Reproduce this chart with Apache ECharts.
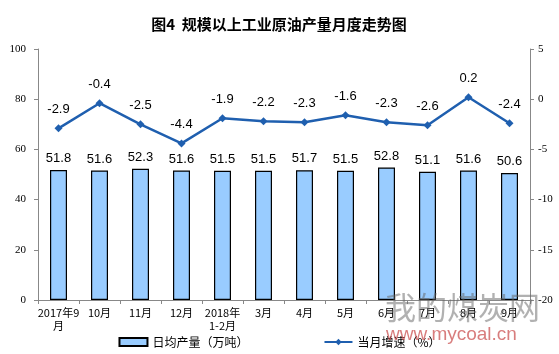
<!DOCTYPE html>
<html><head><meta charset="utf-8">
<script src="https://cdn.jsdelivr.net/npm/echarts@6/dist/echarts.min.js"></script>
<style>html,body{margin:0;padding:0;background:#fff}#c{width:559px;height:354px}</style>
</head><body><div id="c"></div>
<script>
const categories = ['2017年9\n月','10月','11月','12月','2018年\n1-2月','3月','4月','5月','6月','7月','8月','9月'];
const dailyOutput = [51.8,51.6,52.3,51.6,51.5,51.5,51.7,51.5,52.8,51.1,51.6,50.6];
const growth = [-2.9,-0.4,-2.5,-4.4,-1.9,-2.2,-2.3,-1.6,-2.3,-2.6,0.2,-2.4];
const leftTicks = [0,20,40,60,80,100];
const rightTicks = [-20,-15,-10,-5,0,5];

const chart = echarts.init(document.getElementById('c'));
const sans = '"Noto Sans CJK SC", Arial, sans-serif';
chart.setOption({
  animation:false,
  title:{text:'图4  规模以上工业原油产量月度走势图', left:274, textAlign:'center', top:12,
    textStyle:{fontSize:15, fontWeight:'bold', color:'#000', fontFamily:sans}},
  grid:{left:38, right:29, top:49, bottom:54},
  legend:{bottom:1, left:'center', itemGap:75, itemWidth:28, itemHeight:8,
    textStyle:{fontSize:12, color:'#000', fontFamily:sans},
    data:[{name:'日均产量（万吨）', icon:'rect'},{name:'当月增速（%）'}]},
  xAxis:{type:'category', data:categories,
    axisLine:{lineStyle:{color:'#888'}},
    axisTick:{show:true, alignWithLabel:false, length:4, lineStyle:{color:'#888'}},
    axisLabel:{interval:0, fontSize:11, color:'#000', lineHeight:13, margin:6, fontFamily:sans}},
  yAxis:[
    {type:'value', min:leftTicks[0], max:leftTicks[leftTicks.length-1], interval:20,
     splitLine:{show:false}, axisLine:{show:true, lineStyle:{color:'#888'}},
     axisTick:{show:true, length:4, lineStyle:{color:'#888'}},
     axisLabel:{fontSize:11, color:'#000', fontFamily:'"Liberation Serif", serif', margin:12}},
    {type:'value', min:rightTicks[0], max:rightTicks[rightTicks.length-1], interval:5,
     splitLine:{show:false}, axisLine:{show:true, lineStyle:{color:'#888'}},
     axisTick:{show:true, length:4, lineStyle:{color:'#888'}},
     axisLabel:{fontSize:11, color:'#000', fontFamily:'"Liberation Serif", serif', margin:8}}
  ],
  series:[
    {name:'日均产量（万吨）', type:'bar', data:dailyOutput, barWidth:17, yAxisIndex:0,
     itemStyle:{color:'#99CCFF', borderColor:'#000', borderWidth:1.2},
     label:{show:true, position:'top', distance:5, fontSize:13, color:'#000', fontFamily:'Arial, "Liberation Sans", sans-serif'}},
    {name:'当月增速（%）', type:'line', data:growth, yAxisIndex:1,
     symbol:'diamond', symbolSize:8,
     lineStyle:{color:'#1F5FAF', width:2.5}, itemStyle:{color:'#1F5FAF'},
     label:{show:true, position:'top', distance:8, fontSize:13, color:'#000', fontFamily:'Arial, "Liberation Sans", sans-serif',
       formatter:p=>p.value.toFixed(1)}}
  ],
  graphic:[
    {type:'text', left:385, top:292, z:100, style:{text:'我的煤炭网', fontSize:31, fill:'rgba(100,100,100,0.5)', fontFamily:sans}},
    {type:'text', left:386, top:325, z:100, style:{text:'www.mycoal.cn', fontSize:19, fill:'rgba(200,70,70,0.7)', fontFamily:'Arial, "Liberation Sans", sans-serif'}}
  ]
});
</script></body></html>
